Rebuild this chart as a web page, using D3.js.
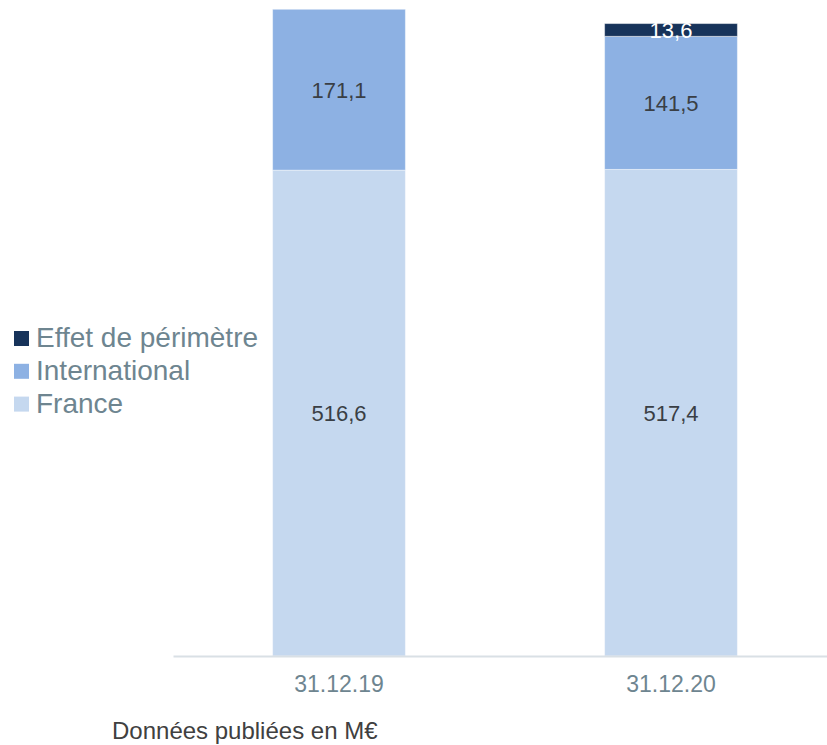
<!DOCTYPE html>
<html>
<head>
<meta charset="utf-8">
<script src="https://cdn.jsdelivr.net/npm/d3@7"></script>
<style>
  html, body { margin: 0; padding: 0; background: #fff; }
  svg { display: block; font-family: "Liberation Sans", Arial, Helvetica, sans-serif; }
</style>
</head>
<body>
<svg id="chart" width="827" height="745"></svg>
<script>
// Stacked revenue by geography, in M€
const periods = ["31.12.19", "31.12.20"];
const seriesNames = ["France", "International", "Effet de périmètre"];
const franceValues = [516.6, 517.4];
const internationalValues = [171.1, 141.5];
const perimeterValues = [0, 13.6];
const legendOrder = ["Effet de périmètre", "International", "France"];
const captionText = "Données publiées en M€";

const colors = {
  "France": "#c5d8ef",
  "International": "#8db1e3",
  "Effet de périmètre": "#17335a"
};
const labelColors = {
  "France": "#3a3f45",
  "International": "#3a3f45",
  "Effet de périmètre": "#ffffff"
};

const rows = periods.map((p, i) => ({
  period: p,
  "France": franceValues[i],
  "International": internationalValues[i],
  "Effet de périmètre": perimeterValues[i]
}));

const svg = d3.select("#chart");

const x = d3.scaleBand()
  .domain(periods)
  .range([173, 837])
  .paddingInner(0.6)
  .paddingOuter(0.3);

const y = d3.scaleLinear()
  .domain([0, 700])
  .range([656, -2.3]);

const stacked = d3.stack().keys(seriesNames)(rows);

const fmt = v => d3.format(".1f")(v).replace(".", ",");

const layers = svg.append("g")
  .selectAll("g")
  .data(stacked)
  .join("g")
  .attr("fill", d => colors[d.key]);

layers.selectAll("rect")
  .data(d => d.filter(s => s[1] - s[0] > 0))
  .join("rect")
  .attr("x", d => x(d.data.period))
  .attr("width", x.bandwidth())
  .attr("y", d => y(d[1]))
  .attr("height", d => y(d[0]) - y(d[1]))
  .attr("stroke", "#ffffff")
  .attr("stroke-opacity", 0.45)
  .attr("stroke-width", 1);

// Value labels centred in each segment
stacked.forEach(layer => {
  svg.append("g")
    .selectAll("text")
    .data(layer.filter(s => s[1] - s[0] > 0))
    .join("text")
    .attr("x", d => x(d.data.period) + x.bandwidth() / 2)
    .attr("y", d => (y(d[0]) + y(d[1])) / 2)
    .attr("dy", "0.36em")
    .attr("text-anchor", "middle")
    .attr("font-size", 22)
    .attr("fill", labelColors[layer.key])
    .text(d => fmt(d[1] - d[0]));
});

// Category axis
const xAxis = svg.append("g")
  .attr("transform", "translate(0,656)")
  .call(d3.axisBottom(x).tickSize(0).tickPadding(20));
xAxis.select(".domain")
  .attr("stroke", "#d9e0e5")
  .attr("stroke-width", 2);
xAxis.selectAll(".tick text")
  .attr("font-size", 23)
  .attr("font-family", "'Liberation Sans', Arial, sans-serif")
  .attr("fill", "#6e8590");

// Legend
const legend = svg.append("g")
  .selectAll("g")
  .data(legendOrder)
  .join("g")
  .attr("transform", (d, i) => `translate(14, ${347 + i * 32.8})`);
legend.append("rect")
  .attr("x", 0)
  .attr("y", -16)
  .attr("width", 15)
  .attr("height", 15)
  .attr("fill", d => colors[d]);
legend.append("text")
  .attr("x", 22)
  .attr("y", 0)
  .attr("font-size", 28)
  .attr("fill", "#6e8590")
  .text(d => d);

// Caption
svg.append("text")
  .attr("x", 112)
  .attr("y", 739)
  .attr("font-size", 24)
  .attr("fill", "#404040")
  .text(captionText);
</script>
</body>
</html>
